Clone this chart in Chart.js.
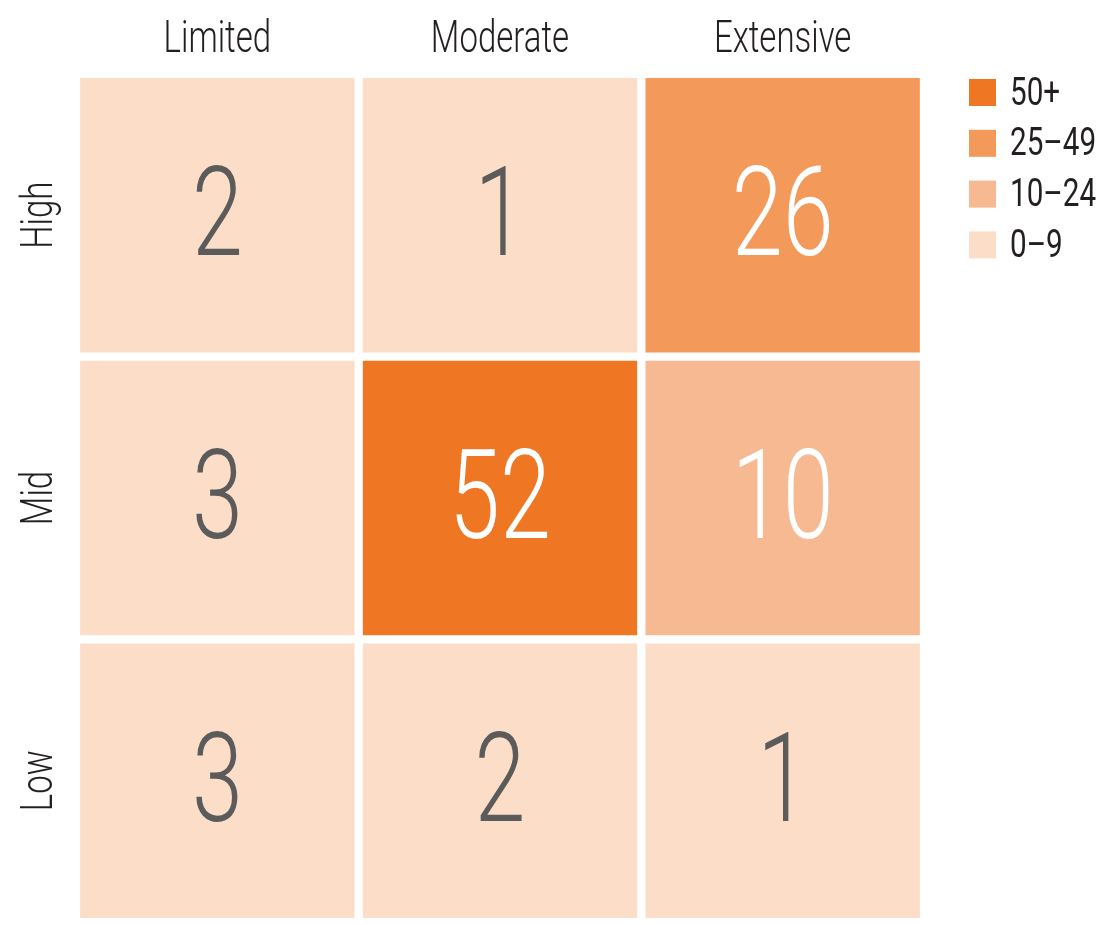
<!DOCTYPE html>
<html>
<head>
<meta charset="utf-8">
<script src="https://cdn.jsdelivr.net/npm/chart.js@4.4.1/dist/chart.umd.min.js"></script>
<style>
  html, body { margin: 0; padding: 0; background: #fff; }
  #wrap { width: 1110px; height: 925px; }
</style>
</head>
<body>
<div id="wrap"><canvas id="myChart"></canvas></div>
<script>
const columns = ["Limited", "Moderate", "Extensive"];
const rows = ["High", "Mid", "Low"];
const highCounts = [2, 1, 26];
const midCounts = [3, 52, 10];
const lowCounts = [3, 2, 1];
const legendLabels = ["50+", "25–49", "10–24", "0–9"];
const legendMins = [50, 25, 10, 0];

const palette = ["#ef7724", "#f39a5b", "#f6b991", "#fbddc8"];
const textColor = "#231f20";
const gap = 0.0147; // half the white gutter, in row units

function getColor(value) {
  for (let i = 0; i < legendMins.length; i++) {
    if (value >= legendMins[i]) return palette[i];
  }
  return palette[palette.length - 1];
}

function rowDataset(name, counts, rowIndex) {
  const bottom = rows.length - 1 - rowIndex;
  return {
    label: name,
    counts: counts,
    data: counts.map(() => [bottom + gap, bottom + 1 - gap]),
    backgroundColor: counts.map(getColor),
    grouped: false,
    categoryPercentage: 1.0,
    barPercentage: 0.9707,
  };
}

// condensed text: squeeze Roboto horizontally
function squeezedText(ctx, text, x, y, rotation, squeeze) {
  ctx.save();
  ctx.translate(x, y);
  ctx.rotate(rotation);
  ctx.scale(squeeze, 1);
  ctx.fillText(text, 0, 0);
  ctx.restore();
}

// big numbers in the cells
const cellLabels = {
  id: "cellLabels",
  afterDatasetsDraw(chart) {
    const ctx = chart.ctx;
    ctx.save();
    ctx.font = "300 124px Roboto";
    ctx.textAlign = "center";
    ctx.textBaseline = "alphabetic";
    chart.data.datasets.forEach((ds, i) => {
      chart.getDatasetMeta(i).data.forEach((bar, j) => {
        const value = ds.counts[j];
        const cy = (bar.y + bar.base) / 2;
        ctx.fillStyle = value >= 10 ? "#ffffff" : "#5b5b5b";
        squeezedText(ctx, String(value), bar.x, cy + 40, 0, 0.74);
      });
    });
    ctx.restore();
  },
};

// axis labels, placed from the scales' own ticks
const axisLabels = {
  id: "axisLabels",
  afterDraw(chart) {
    const ctx = chart.ctx;
    const area = chart.chartArea;
    const xs = chart.scales.x;
    const ys = chart.scales.y;
    ctx.save();
    ctx.font = "300 44px Roboto";
    ctx.fillStyle = textColor;
    ctx.textAlign = "center";
    ctx.textBaseline = "alphabetic";
    xs.ticks.forEach((t, i) => {
      squeezedText(ctx, t.label, xs.getPixelForTick(i), area.top - 26, 0, 0.75);
    });
    ys.ticks.forEach((t) => {
      squeezedText(ctx, t.label, area.left - 24, ys.getPixelForValue(t.value), -Math.PI / 2, 0.75);
    });
    ctx.restore();
  },
};

// colour key on the right
const sideLegend = {
  id: "sideLegend",
  afterDraw(chart) {
    const ctx = chart.ctx;
    const x = chart.chartArea.right + 45;
    ctx.save();
    ctx.font = "400 38px Roboto";
    ctx.textBaseline = "alphabetic";
    ctx.textAlign = "left";
    legendLabels.forEach((text, i) => {
      const top = chart.chartArea.top + 1 + i * 50.8;
      ctx.fillStyle = palette[i];
      ctx.fillRect(x, top, 27, 27);
      ctx.fillStyle = textColor;
      squeezedText(ctx, text, x + 41, top + 25.5, 0, 0.78);
    });
    ctx.restore();
  },
};

var ctx = document.getElementById("myChart").getContext("2d");

var myChart = new Chart(ctx, {
  type: "bar",
  data: {
    labels: columns,
    datasets: [
      rowDataset(rows[0], highCounts, 0),
      rowDataset(rows[1], midCounts, 1),
      rowDataset(rows[2], lowCounts, 2),
    ],
  },
  options: {
    responsive: true,
    maintainAspectRatio: false,
    animation: false,
    layout: {
      padding: { top: 0, right: 186, bottom: 7, left: 0 },
    },
    scales: {
      x: {
        type: "category",
        position: "top",
        grid: { display: false },
        border: { display: false },
        ticks: { display: false },
        afterFit(scale) {
          scale.height = 78;
        },
      },
      y: {
        type: "linear",
        min: gap,
        max: 3 - gap,
        grid: { display: false },
        border: { display: false },
        afterBuildTicks(scale) {
          scale.ticks = [{ value: 0.5 }, { value: 1.5 }, { value: 2.5 }];
        },
        ticks: {
          display: false,
          autoSkip: false,
          callback: (value) => rows[rows.length - 1 - Math.floor(value)],
        },
        afterFit(scale) {
          scale.width = 76;
        },
      },
    },
    plugins: {
      legend: { display: false },
      tooltip: { enabled: false },
    },
  },
  plugins: [cellLabels, axisLabels, sideLegend],
});
</script>
</body>
</html>
